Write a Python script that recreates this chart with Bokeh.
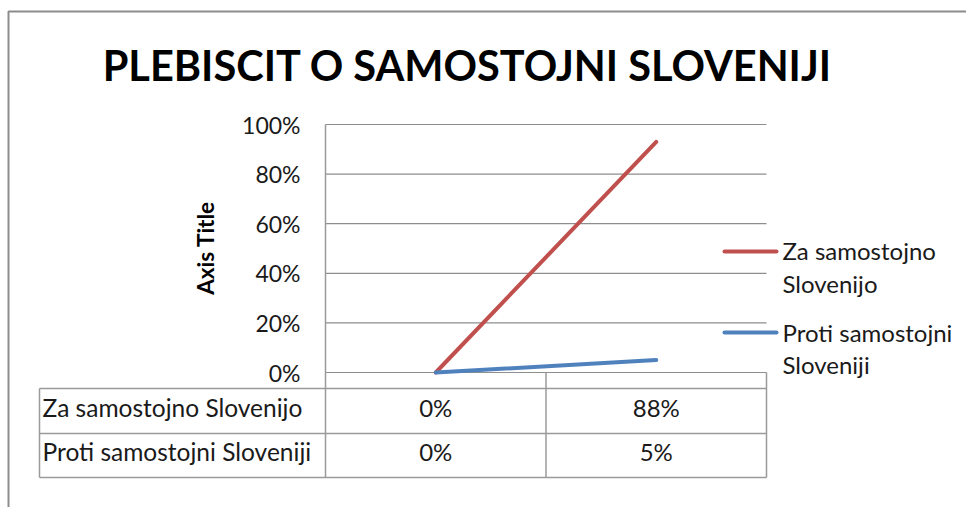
from math import pi
from bokeh.plotting import figure
from bokeh.models import Range1d
from bokeh.embed import file_html
from bokeh.resources import INLINE
from bokeh.core.properties import value

# ---------------- data ----------------
title_text = "PLEBISCIT O SAMOSTOJNI SLOVENIJI"
y_axis_title = "Axis Title"
series_names = ["Za samostojno Slovenijo", "Proti samostojni Sloveniji"]
legend_lines = [["Za samostojno", "Slovenijo"], ["Proti samostojni", "Sloveniji"]]
categories = [1, 2]
za_values = [0.0, 0.93]
proti_values = [0.0, 0.05]
table_za = ["0%", "88%"]
table_proti = ["0%", "5%"]
y_ticks = [0.0, 0.2, 0.4, 0.6, 0.8, 1.0]
series_colors = ["#C0504D", "#4F81BD"]

# ---------------- layout (reference pixels) ----------------
W, H = 966, 507
OX, OY = 0, 0
PLOT_L, PLOT_R, PLOT_T, PLOT_B = 325, 766, 124, 372
PPX = (PLOT_R - PLOT_L) / 2.0       # pixels per category
PPY = (PLOT_B - PLOT_T) / 1.0       # pixels per 100%


def X(px):
    return 0.5 + (px - PLOT_L) / PPX


def Y(py):
    return (PLOT_B - py) / PPY


FONT = value("Lato")
TXT = "#1A1A1A"
GRID = "#8E8E8E"
TBL = "#9A9A9A"

p = figure(width=W, height=H, output_backend="svg", toolbar_location=None,
           x_range=Range1d(X(OX), X(OX + W)), y_range=Range1d(Y(OY + H), Y(OY)),
           min_border=0)
p.axis.visible = False
p.grid.visible = False
p.outline_line_color = None
p.background_fill_color = "white"
p.border_fill_color = "white"

# outer chart frame (left and top edges visible)
p.line([X(8), X(8), X(990)], [Y(520), Y(11), Y(11)], line_color="#8C8C8C", line_width=2)

# title
p.text(x=[X(467)], y=[Y(64)], text=[title_text], text_font=FONT, text_font_style="bold",
       text_font_size="41.5px", text_align="center", text_baseline="middle", text_color="black")

# gridlines
p.segment(x0=[X(PLOT_L)] * len(y_ticks), x1=[X(PLOT_R)] * len(y_ticks), y0=y_ticks, y1=y_ticks,
          line_color=GRID, line_width=1.2)

# y tick labels
p.text(x=[X(300)] * len(y_ticks), y=y_ticks, text=[f"{t:.0%}" for t in y_ticks], text_font=FONT,
       text_font_size="23px", text_align="right", text_baseline="middle", text_color=TXT)

# axis title
p.text(x=[X(205)], y=[Y(247.5)], text=[y_axis_title], angle=pi / 2, text_font=FONT,
       text_font_style="bold", text_font_size="22.5px", text_align="center",
       text_baseline="middle", text_color="black")

# vertical axis line + data table grid
row_tops = [388, 433, 477]
p.segment(x0=[X(PLOT_L)], x1=[X(PLOT_L)], y0=[Y(PLOT_T)], y1=[Y(477)], line_color=TBL, line_width=1.5)
p.segment(x0=[X(39)] * 3, x1=[X(PLOT_R)] * 3, y0=[Y(r) for r in row_tops], y1=[Y(r) for r in row_tops],
          line_color=TBL, line_width=1.5)
p.segment(x0=[X(39)], x1=[X(39)], y0=[Y(388)], y1=[Y(477)], line_color=TBL, line_width=1.5)
bounds = [c + 0.5 for c in categories]
p.segment(x0=bounds, x1=bounds, y0=[0.0] * len(bounds), y1=[Y(477)] * len(bounds),
          line_color=TBL, line_width=1.5)

# table texts
row_mid = [Y(407), Y(451)]
p.text(x=[X(42)] * 2, y=row_mid, text=series_names, text_font=FONT, text_font_size="24.5px",
       text_align="left", text_baseline="middle", text_color=TXT)
p.text(x=categories, y=[row_mid[0]] * len(categories), text=table_za, text_font=FONT, text_font_size="24px",
       text_align="center", text_baseline="middle", text_color=TXT)
p.text(x=categories, y=[row_mid[1]] * len(categories), text=table_proti, text_font=FONT, text_font_size="24px",
       text_align="center", text_baseline="middle", text_color=TXT)

# series lines
p.line(categories, za_values, line_color=series_colors[0], line_width=4, line_cap="round")
p.line(categories, proti_values, line_color=series_colors[1], line_width=4, line_cap="round")

# legend
leg_y = [251, 332]
leg_mid = [(250, 283), (332, 364)]
for i in range(2):
    p.line([X(724), X(776)], [Y(leg_y[i]), Y(leg_y[i])], line_color=series_colors[i], line_width=4,
           line_cap="round")
    p.text(x=[X(782)] * 2, y=[Y(b) for b in leg_mid[i]], text=legend_lines[i], text_font=FONT,
           text_font_size="24px", text_align="left", text_baseline="middle", text_color=TXT)

open("out.html", "w").write(file_html(p, INLINE))
